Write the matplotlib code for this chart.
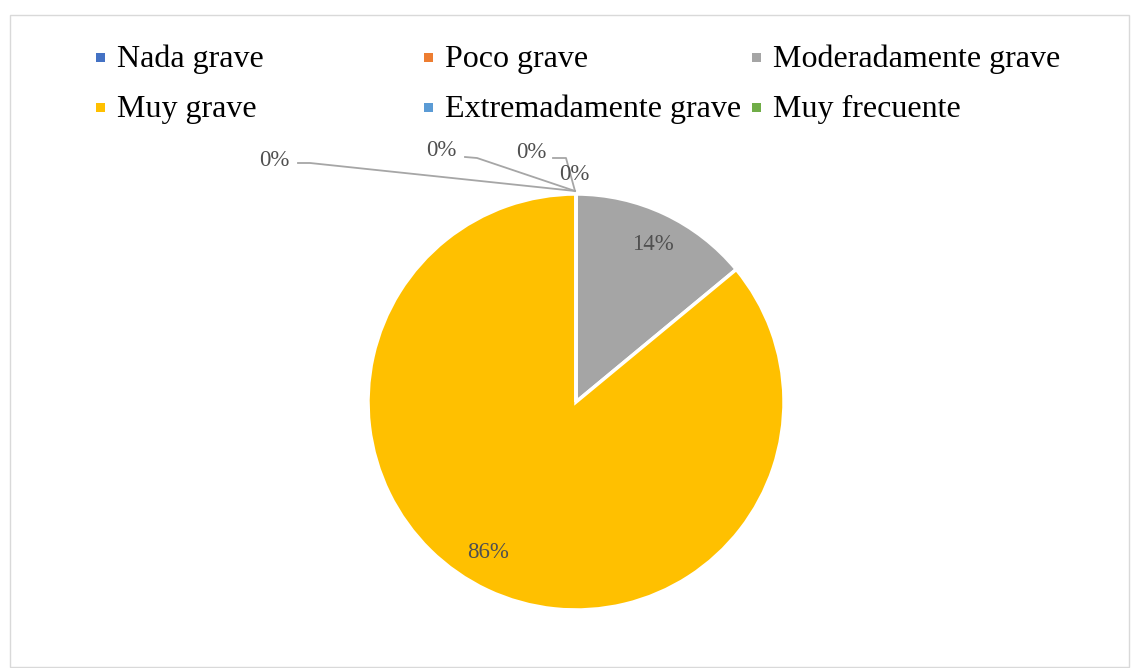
import matplotlib
matplotlib.use("Agg")
import matplotlib.pyplot as plt
from matplotlib.patches import Rectangle

categories = ["Nada grave", "Poco grave", "Moderadamente grave",
              "Muy grave", "Extremadamente grave", "Muy frecuente"]
values = [0, 0, 14, 86, 0, 0]
colors = ["#4472C4", "#ED7D31", "#A5A5A5", "#FFC000", "#5B9BD5", "#70AD47"]

W, H = 1131, 668
fig = plt.figure(figsize=(W / 100, H / 100), dpi=100)
ax = fig.add_axes([0, 0, 1, 1])
ax.set_xlim(0, W)
ax.set_ylim(0, H)
ax.set_aspect("equal")
ax.axis("off")

FONT = "Liberation Serif"

# chart border
ax.add_patch(Rectangle((10, 1), W - 12, H - 16, fill=False, edgecolor="#D9D9D9", lw=1))

cx, cy, r = 576, H - 402, 208
ax.pie(values, colors=colors, startangle=90, counterclock=False,
       center=(cx, cy), radius=r,
       wedgeprops=dict(edgecolor="white", linewidth=2.5))
ax.set_xlim(0, W)
ax.set_ylim(0, H)

# data labels (positions in pixel coords, y from top)
label_pos = [(274, 160), (441, 151), (653, 244), (488, 553), (531, 153), (574, 175)]
leader = {0: [(298, 163), (310, 163)], 1: [(465, 157), (477, 158)], 4: [(553, 158), (566, 158)]}
tip = (575, 191)
for i, v in enumerate(values):
    x, y = label_pos[i]
    ax.text(x, H - y, f"{v}%", fontsize=16.5, family=FONT, color="#505050",
            ha="center", va="center")
    if i in leader:
        pts = leader[i] + [tip]
        ax.plot([p[0] for p in pts], [H - p[1] for p in pts], color="#A6A6A6", lw=1.3)

# legend (Excel-style equal columns)
for i, (lab, col) in enumerate(zip(categories, colors)):
    row, c = divmod(i, 3)
    tx = 117 + 328 * c
    base = 67 + 50 * row
    mc = (tx - 17, base - 9.5)
    ax.add_patch(Rectangle((mc[0] - 4.5, H - mc[1] - 4.5), 9, 9, facecolor=col, edgecolor="none"))
    ax.text(tx, H - base, lab, fontsize=23, family=FONT, color="black",
            ha="left", va="baseline")

fig.savefig("out.png", dpi=100)
